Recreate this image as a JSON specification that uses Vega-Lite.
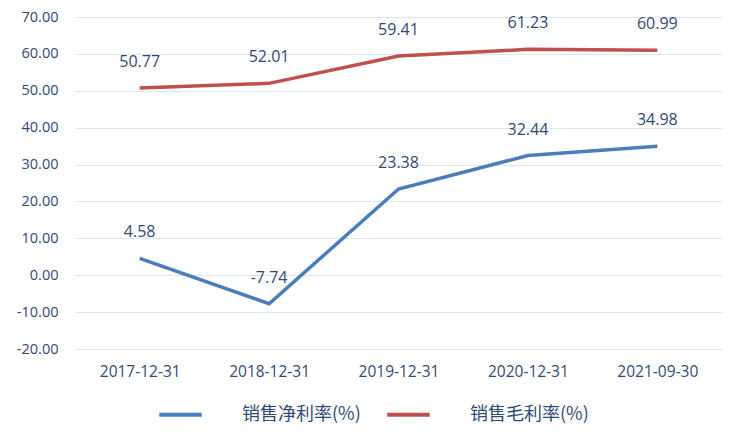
{
  "$schema": "https://vega.github.io/schema/vega-lite/v6.json",
  "width": 647,
  "height": 332,
  "autosize": {"type": "none"},
  "padding": {"left": 75, "top": 17, "right": 17, "bottom": 92},
  "background": "white",
  "config": {
    "view": {"stroke": null},
    "font": "Noto Sans CJK SC",
    "locale": {"number": {"decimal": ".", "thousands": ",", "grouping": [3], "currency": ["", ""], "minus": "-"}}
  },
  "data": {
    "values": [
      {"date": "2017-12-31", "series": "销售净利率(%)", "value": 4.58},
      {"date": "2018-12-31", "series": "销售净利率(%)", "value": -7.74},
      {"date": "2019-12-31", "series": "销售净利率(%)", "value": 23.38},
      {"date": "2020-12-31", "series": "销售净利率(%)", "value": 32.44},
      {"date": "2021-09-30", "series": "销售净利率(%)", "value": 34.98},
      {"date": "2017-12-31", "series": "销售毛利率(%)", "value": 50.77},
      {"date": "2018-12-31", "series": "销售毛利率(%)", "value": 52.01},
      {"date": "2019-12-31", "series": "销售毛利率(%)", "value": 59.41},
      {"date": "2020-12-31", "series": "销售毛利率(%)", "value": 61.23},
      {"date": "2021-09-30", "series": "销售毛利率(%)", "value": 60.99}
    ]
  },
  "encoding": {
    "x": {
      "field": "date", "type": "nominal", "sort": null, "title": null,
      "scale": {"type": "point", "padding": 0.5},
      "axis": {"labelAngle": 0, "domain": false, "ticks": false, "grid": false,
               "labelFont": "Open Sans", "labelFontSize": 15.5, "labelColor": "#2f4b73",
               "labelPadding": 15}
    },
    "y": {
      "field": "value", "type": "quantitative", "title": null,
      "scale": {"domain": [-20, 70], "nice": false, "zero": false},
      "axis": {"values": [-20, -10, 0, 10, 20, 30, 40, 50, 60, 70], "format": ".2f",
               "domain": false, "ticks": false, "gridColor": "#dce6f2", "gridWidth": 1.2,
               "labelFont": "Open Sans", "labelFontSize": 14.5, "labelColor": "#2f4b73",
               "labelPadding": 17}
    }
  },
  "layer": [
    {
      "mark": {"type": "line", "strokeWidth": 3.5, "strokeCap": "butt"},
      "encoding": {
        "color": {
          "field": "series", "type": "nominal", "sort": ["销售净利率(%)", "销售毛利率(%)"],
          "scale": {"domain": ["销售净利率(%)", "销售毛利率(%)"], "range": ["#4a7ebb", "#c0504d"]},
          "legend": {
            "title": null, "orient": "none", "direction": "horizontal",
            "legendX": 82, "legendY": 374,
            "symbolType": "stroke", "symbolSize": 1800, "symbolStrokeWidth": 4,
            "labelFont": "Noto Sans CJK SC", "labelFontSize": 18, "labelColor": "#2f4b73",
            "labelOffset": 38, "columnPadding": 18, "symbolOffset": 0
          }
        }
      }
    },
    {
      "mark": {"type": "text", "dy": -26, "font": "Open Sans", "fontSize": 16, "color": "#2f4b73"},
      "encoding": {
        "text": {"field": "value", "type": "quantitative", "format": ".2f"}
      }
    }
  ]
}
